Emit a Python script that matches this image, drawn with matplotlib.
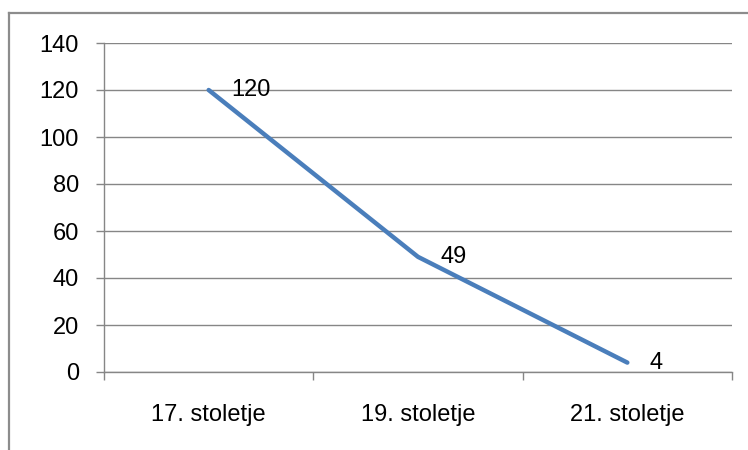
import matplotlib
matplotlib.use("Agg")
import matplotlib.pyplot as plt
from matplotlib.lines import Line2D

# stoletja in vrednosti
categories = ["17. stoletje", "19. stoletje", "21. stoletje"]
values = [120, 49, 4]
yticks = [0, 20, 40, 60, 80, 100, 120, 140]

plt.rcParams['font.family'] = ['Liberation Sans', 'DejaVu Sans']

W, H = 748, 450
fig = plt.figure(figsize=(W / 100, H / 100), dpi=100)
ax = fig.add_axes([104 / W, 78 / H, (732 - 104) / W, (372 - 43) / H])

grid_col = '#868686'
fs = 17
x = list(range(len(categories)))
ax.plot(x, values, color='#4a7ebb', linewidth=3.2, solid_capstyle='round', zorder=3)
for xi, v in zip(x, values):
    ax.annotate(str(v), (xi, v), xytext=(16, 0), textcoords='offset points',
                ha='left', va='center', fontsize=fs, color='#000000', zorder=4)

ax.set_xlim(-0.5, len(categories) - 0.5)
ax.set_ylim(0, 140)
ax.set_yticks(yticks)
ax.set_xticks(x)
ax.set_xticklabels(categories)
ax.set_xticks([i - 0.5 for i in range(len(categories) + 1)], minor=True)

ax.grid(axis='y', color=grid_col, linewidth=1)
ax.set_axisbelow(True)
for s in ['top', 'right']:
    ax.spines[s].set_visible(False)
for s in ['left', 'bottom']:
    ax.spines[s].set_color(grid_col)
    ax.spines[s].set_linewidth(1)

ax.tick_params(axis='y', length=6, width=1, color=grid_col, pad=12, labelsize=fs)
ax.tick_params(axis='x', which='major', length=0, pad=23, labelsize=fs)
ax.tick_params(axis='x', which='minor', length=6, width=1, color=grid_col)

# okvir grafikona
bc = '#8c8c8c'
fig.add_artist(Line2D([9 / W, 9 / W], [0, 1 - 13 / H], color=bc, linewidth=1.6, transform=fig.transFigure))
fig.add_artist(Line2D([9 / W, 1], [1 - 13 / H, 1 - 13 / H], color=bc, linewidth=1.6, transform=fig.transFigure))

fig.savefig('out.png', dpi=100)
